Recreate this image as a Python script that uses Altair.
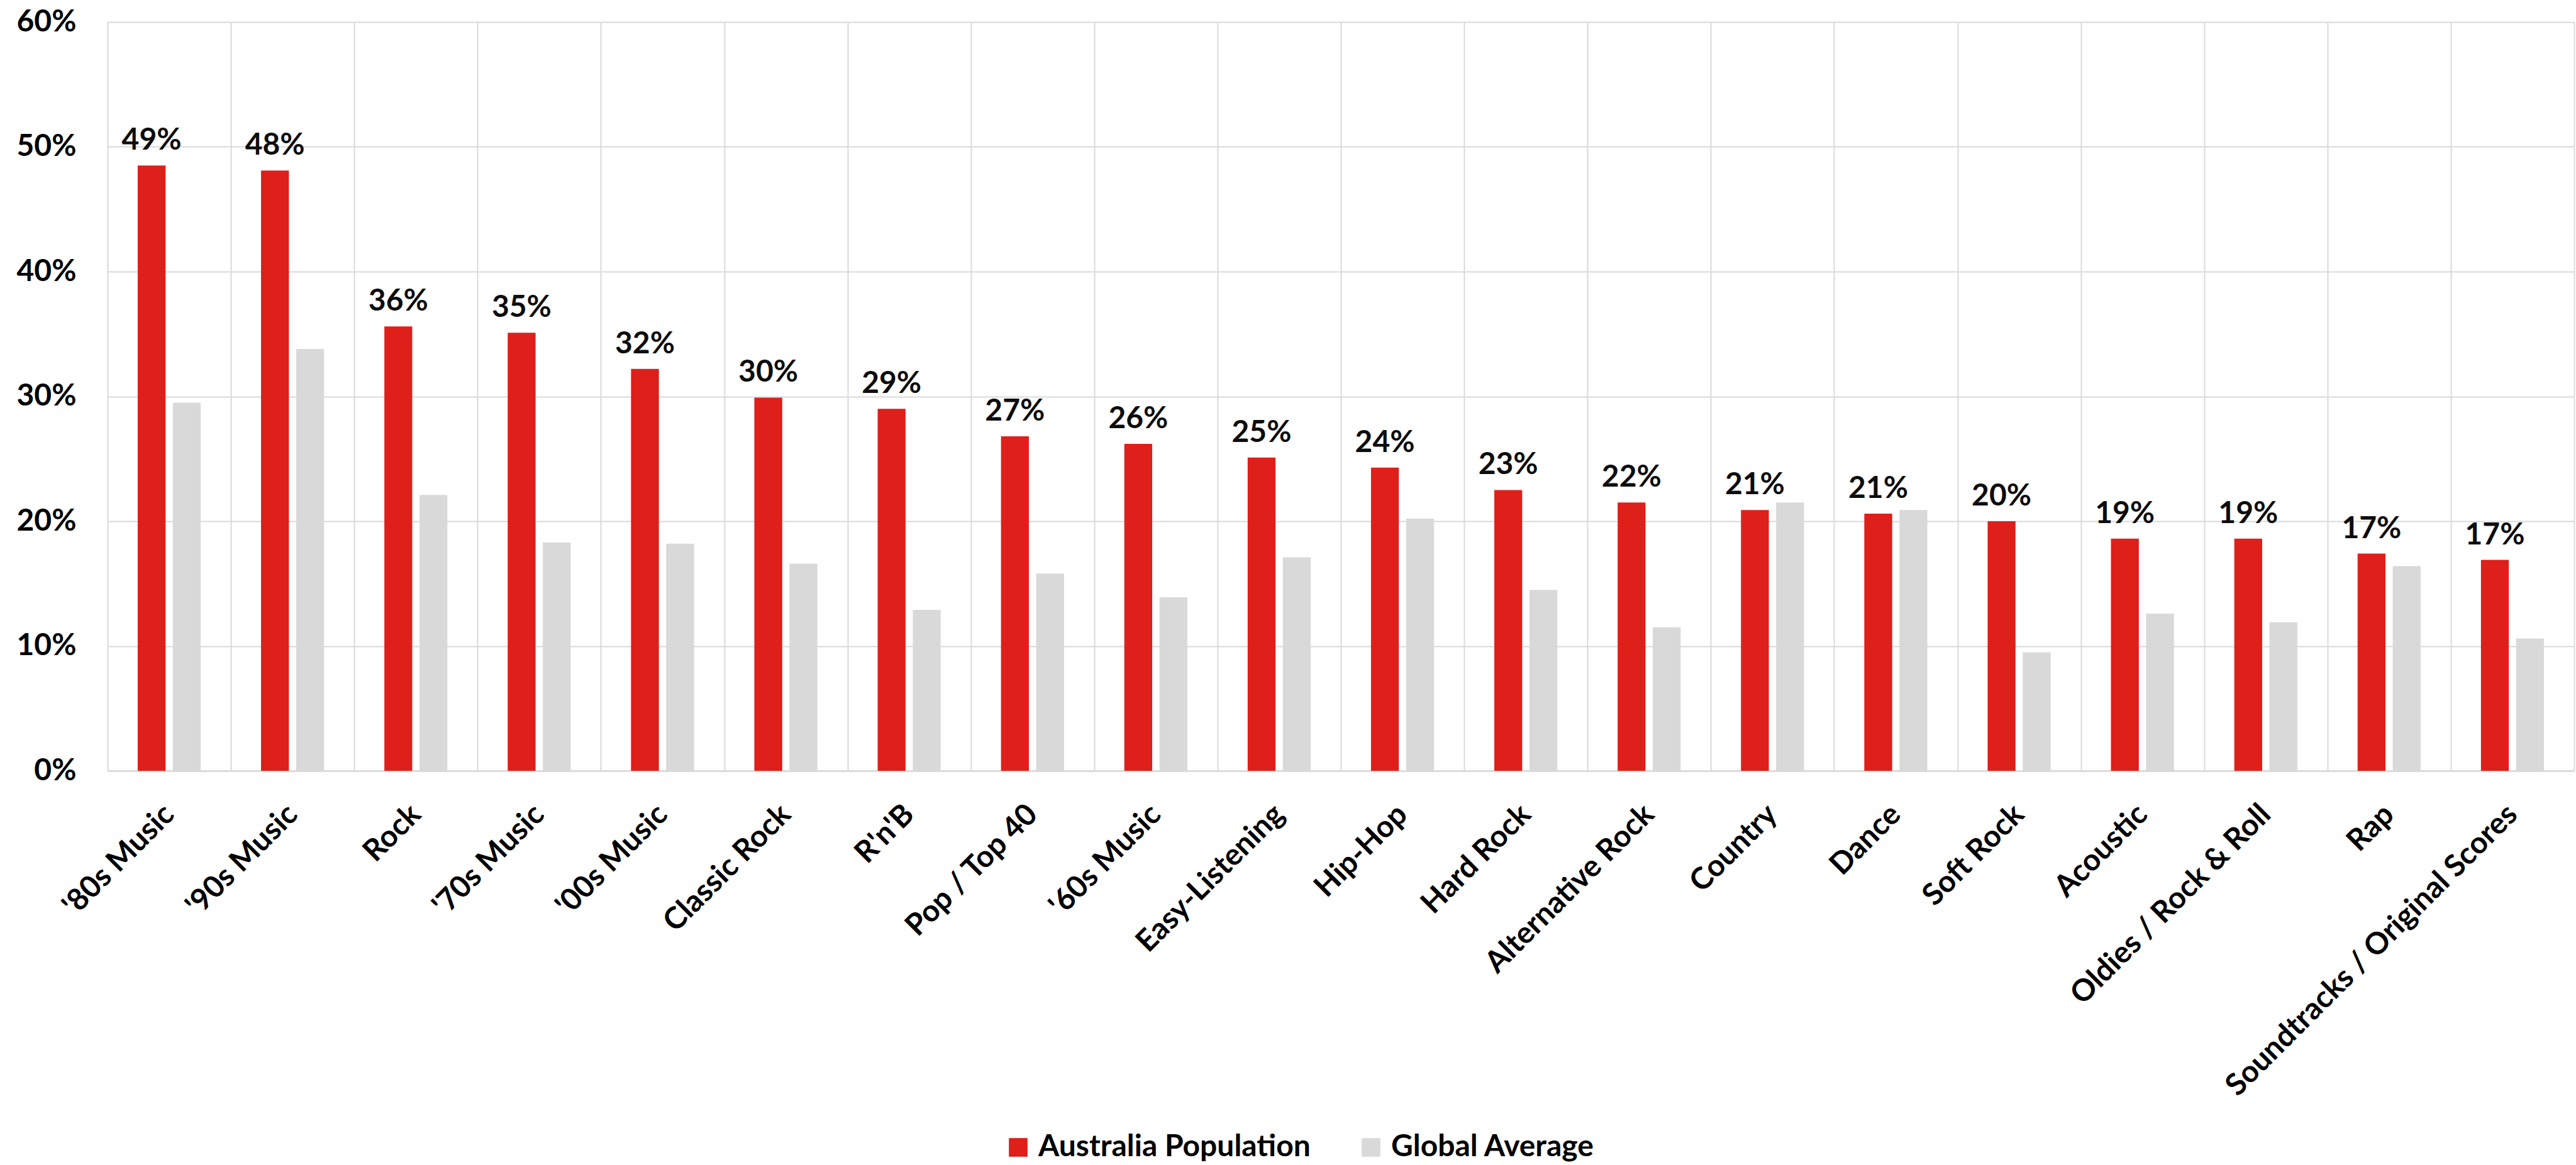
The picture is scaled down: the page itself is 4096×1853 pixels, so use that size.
import altair as alt
import pandas as pd

categories = ["'80s Music", "'90s Music", "Rock", "'70s Music", "'00s Music", "Classic Rock",
              "R'n'B", "Pop / Top 40", "'60s Music", "Easy-Listening", "Hip-Hop", "Hard Rock",
              "Alternative Rock", "Country", "Dance", "Soft Rock", "Acoustic",
              "Oldies / Rock & Roll", "Rap", "Soundtracks / Original Scores"]
australia = [48.5, 48.1, 35.6, 35.1, 32.2, 29.9, 29.0, 26.8, 26.2, 25.1, 24.3, 22.5,
             21.5, 20.9, 20.6, 20.0, 18.6, 18.6, 17.4, 16.9]
global_avg = [29.5, 33.8, 22.1, 18.3, 18.2, 16.6, 12.9, 15.8, 13.9, 17.1, 20.2, 14.5,
              11.5, 21.5, 20.9, 9.5, 12.6, 11.9, 16.4, 10.6]
series = ["Australia Population", "Global Average"]
colors = ["#DF1F1A", "#D9D9D9"]
y_ticks = [0, 10, 20, 30, 40, 50, 60]

rows = []
for c, a, g in zip(categories, australia, global_avg):
    rows.append({"category": c, "series": series[0], "value": a})
    rows.append({"category": c, "series": series[1], "value": g})
df = pd.DataFrame(rows)

FONT = "Lato"
FS = 48
GRID = "#D9D9D9"

x_enc = alt.X(
    "category:N", sort=categories,
    scale=alt.Scale(paddingInner=0, paddingOuter=0),
    axis=alt.Axis(
        title=None, tickBand="extent", grid=True, gridColor=GRID, gridWidth=2,
        ticks=False, domainColor=GRID, domainWidth=2.5,
        labelAngle=-45, labelAlign="right", labelBaseline="middle", labelPadding=62,
        labelFont=FONT, labelFontWeight="bold", labelFontSize=FS, labelColor="#000000",
        labelLimit=0, labelOverlap=False,
    ),
)
xoff_enc = alt.XOffset("series:N", sort=series,
                       scale=alt.Scale(domain=series, paddingInner=0.207, paddingOuter=0.858))
y_enc = alt.Y(
    "value:Q",
    scale=alt.Scale(domain=[0, 60], nice=False, zero=True),
    axis=alt.Axis(
        title=None, values=y_ticks, labelExpr="datum.value + '%'", domain=False, ticks=False,
        grid=True, gridColor=GRID, gridWidth=2, labelPadding=50,
        labelFont=FONT, labelFontWeight="bold", labelFontSize=FS, labelColor="#000000",
    ),
)

bars = alt.Chart(df).mark_bar().encode(
    x=x_enc,
    xOffset=xoff_enc,
    y=y_enc,
    color=alt.Color(
        "series:N", sort=series,
        scale=alt.Scale(domain=series, range=colors),
        legend=alt.Legend(
            title=None, orient="none", direction="horizontal", legendX=1424, legendY=1766,
            symbolType="square", symbolSize=880, symbolStrokeWidth=0, symbolOpacity=1,
            labelFont=FONT, labelFontWeight="bold", labelFontSize=FS, labelColor="#000000",
            labelOffset=8, columnPadding=72, labelLimit=0,
        ),
    ),
)

labels = alt.Chart(df).transform_filter(
    alt.datum.series == series[0]
).transform_calculate(
    label="round(datum.value) + '%'"
).mark_text(
    font=FONT, fontWeight="bold", fontSize=FS, color="#0D0D0D",
    baseline="alphabetic", align="center", dy=-25,
).encode(
    x=alt.X("category:N", sort=categories),
    xOffset=alt.XOffset("series:N", sort=series),
    y=alt.Y("value:Q"),
    text="label:N",
)

chart = alt.layer(bars, labels).properties(
    width=3922, height=1191,
    autosize=alt.AutoSizeParams(type="none"),
    padding={"left": 171, "top": 35, "right": 3, "bottom": 627},
    background="white",
).configure_view(stroke=None)

chart.save("out.html", embed_options={"renderer": "svg", "actions": False})
